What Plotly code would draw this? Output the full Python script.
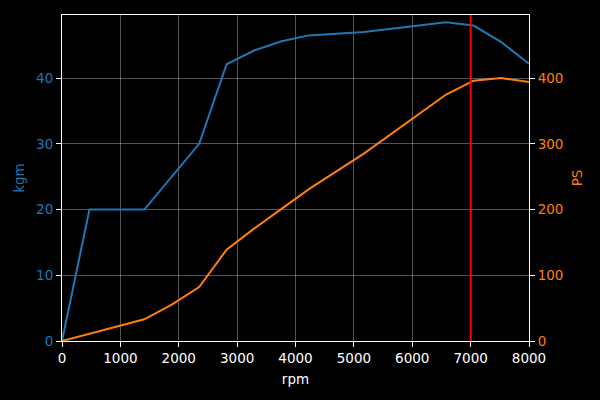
import plotly.graph_objects as go

# Data
rpm = [0, 470, 1410, 1880, 2350, 2820, 3290, 3760, 4230, 5170, 6580, 7050, 7520, 8000]
torque_kgm = [0, 20, 20, 25, 30, 42.1, 44.2, 45.6, 46.5, 47.0, 48.5, 48.0, 45.5, 42.2]
power_ps = [0, 11, 33, 55.5, 82, 139, 171, 201, 231, 285, 375, 396, 400, 394]
redline_rpm = [7000]

x_ticks = [0, 1000, 2000, 3000, 4000, 5000, 6000, 7000, 8000]
kgm_ticks = [0, 10, 20, 30, 40]
ps_ticks = [0, 100, 200, 300, 400]

BLUE = "#1f77b4"
ORANGE = "#ff7f0e"
FONT = "DejaVu Sans"
FS = 13.5
GRID = "rgba(255,255,255,0.33)"

fig = go.Figure()
fig.add_trace(go.Scatter(x=rpm, y=torque_kgm, mode="lines",
                         line=dict(color=BLUE, width=2), yaxis="y", showlegend=False))
fig.add_trace(go.Scatter(x=rpm, y=power_ps, mode="lines",
                         line=dict(color=ORANGE, width=2), yaxis="y2", showlegend=False))
for r in redline_rpm:
    fig.add_vline(x=r, line=dict(color="#ff0000", width=2), layer="above")

fig.update_layout(
    width=600, height=400,
    paper_bgcolor="black", plot_bgcolor="black",
    margin=dict(l=62, r=71, t=15, b=59),
    font=dict(family=FONT, size=FS, color="white"),
    xaxis=dict(range=[0, 8000], tickvals=x_ticks, ticks="outside", ticklen=5,
               tickcolor="white", tickfont=dict(color="white", size=FS),
               showline=True, linecolor="white", linewidth=1, mirror=True,
               showgrid=True, gridcolor=GRID, gridwidth=1, zeroline=False,
               title=dict(text="rpm", font=dict(color="white", size=FS), standoff=9)),
    yaxis=dict(range=[0, 49.6], tickvals=kgm_ticks, ticks="outside", ticklen=5,
               tickcolor="white", tickfont=dict(color=BLUE, size=FS),
               showline=True, linecolor="white", linewidth=1, mirror=True,
               showgrid=True, gridcolor=GRID, gridwidth=1, zeroline=False,
               title=dict(text="kgm", font=dict(color=BLUE, size=FS), standoff=8)),
    yaxis2=dict(range=[0, 496], tickvals=ps_ticks, ticks="outside", ticklen=5,
                tickcolor="white", tickfont=dict(color=ORANGE, size=FS),
                overlaying="y", side="right", anchor="x",
                showline=True, linecolor="white", linewidth=1,
                showgrid=False, zeroline=False,
                title=dict(text="PS", font=dict(color=ORANGE, size=FS), standoff=10)),
)

fig.write_html("out.html", config={"displayModeBar": False},
               post_script="document.body.style.margin='0';document.body.style.background='black';")
